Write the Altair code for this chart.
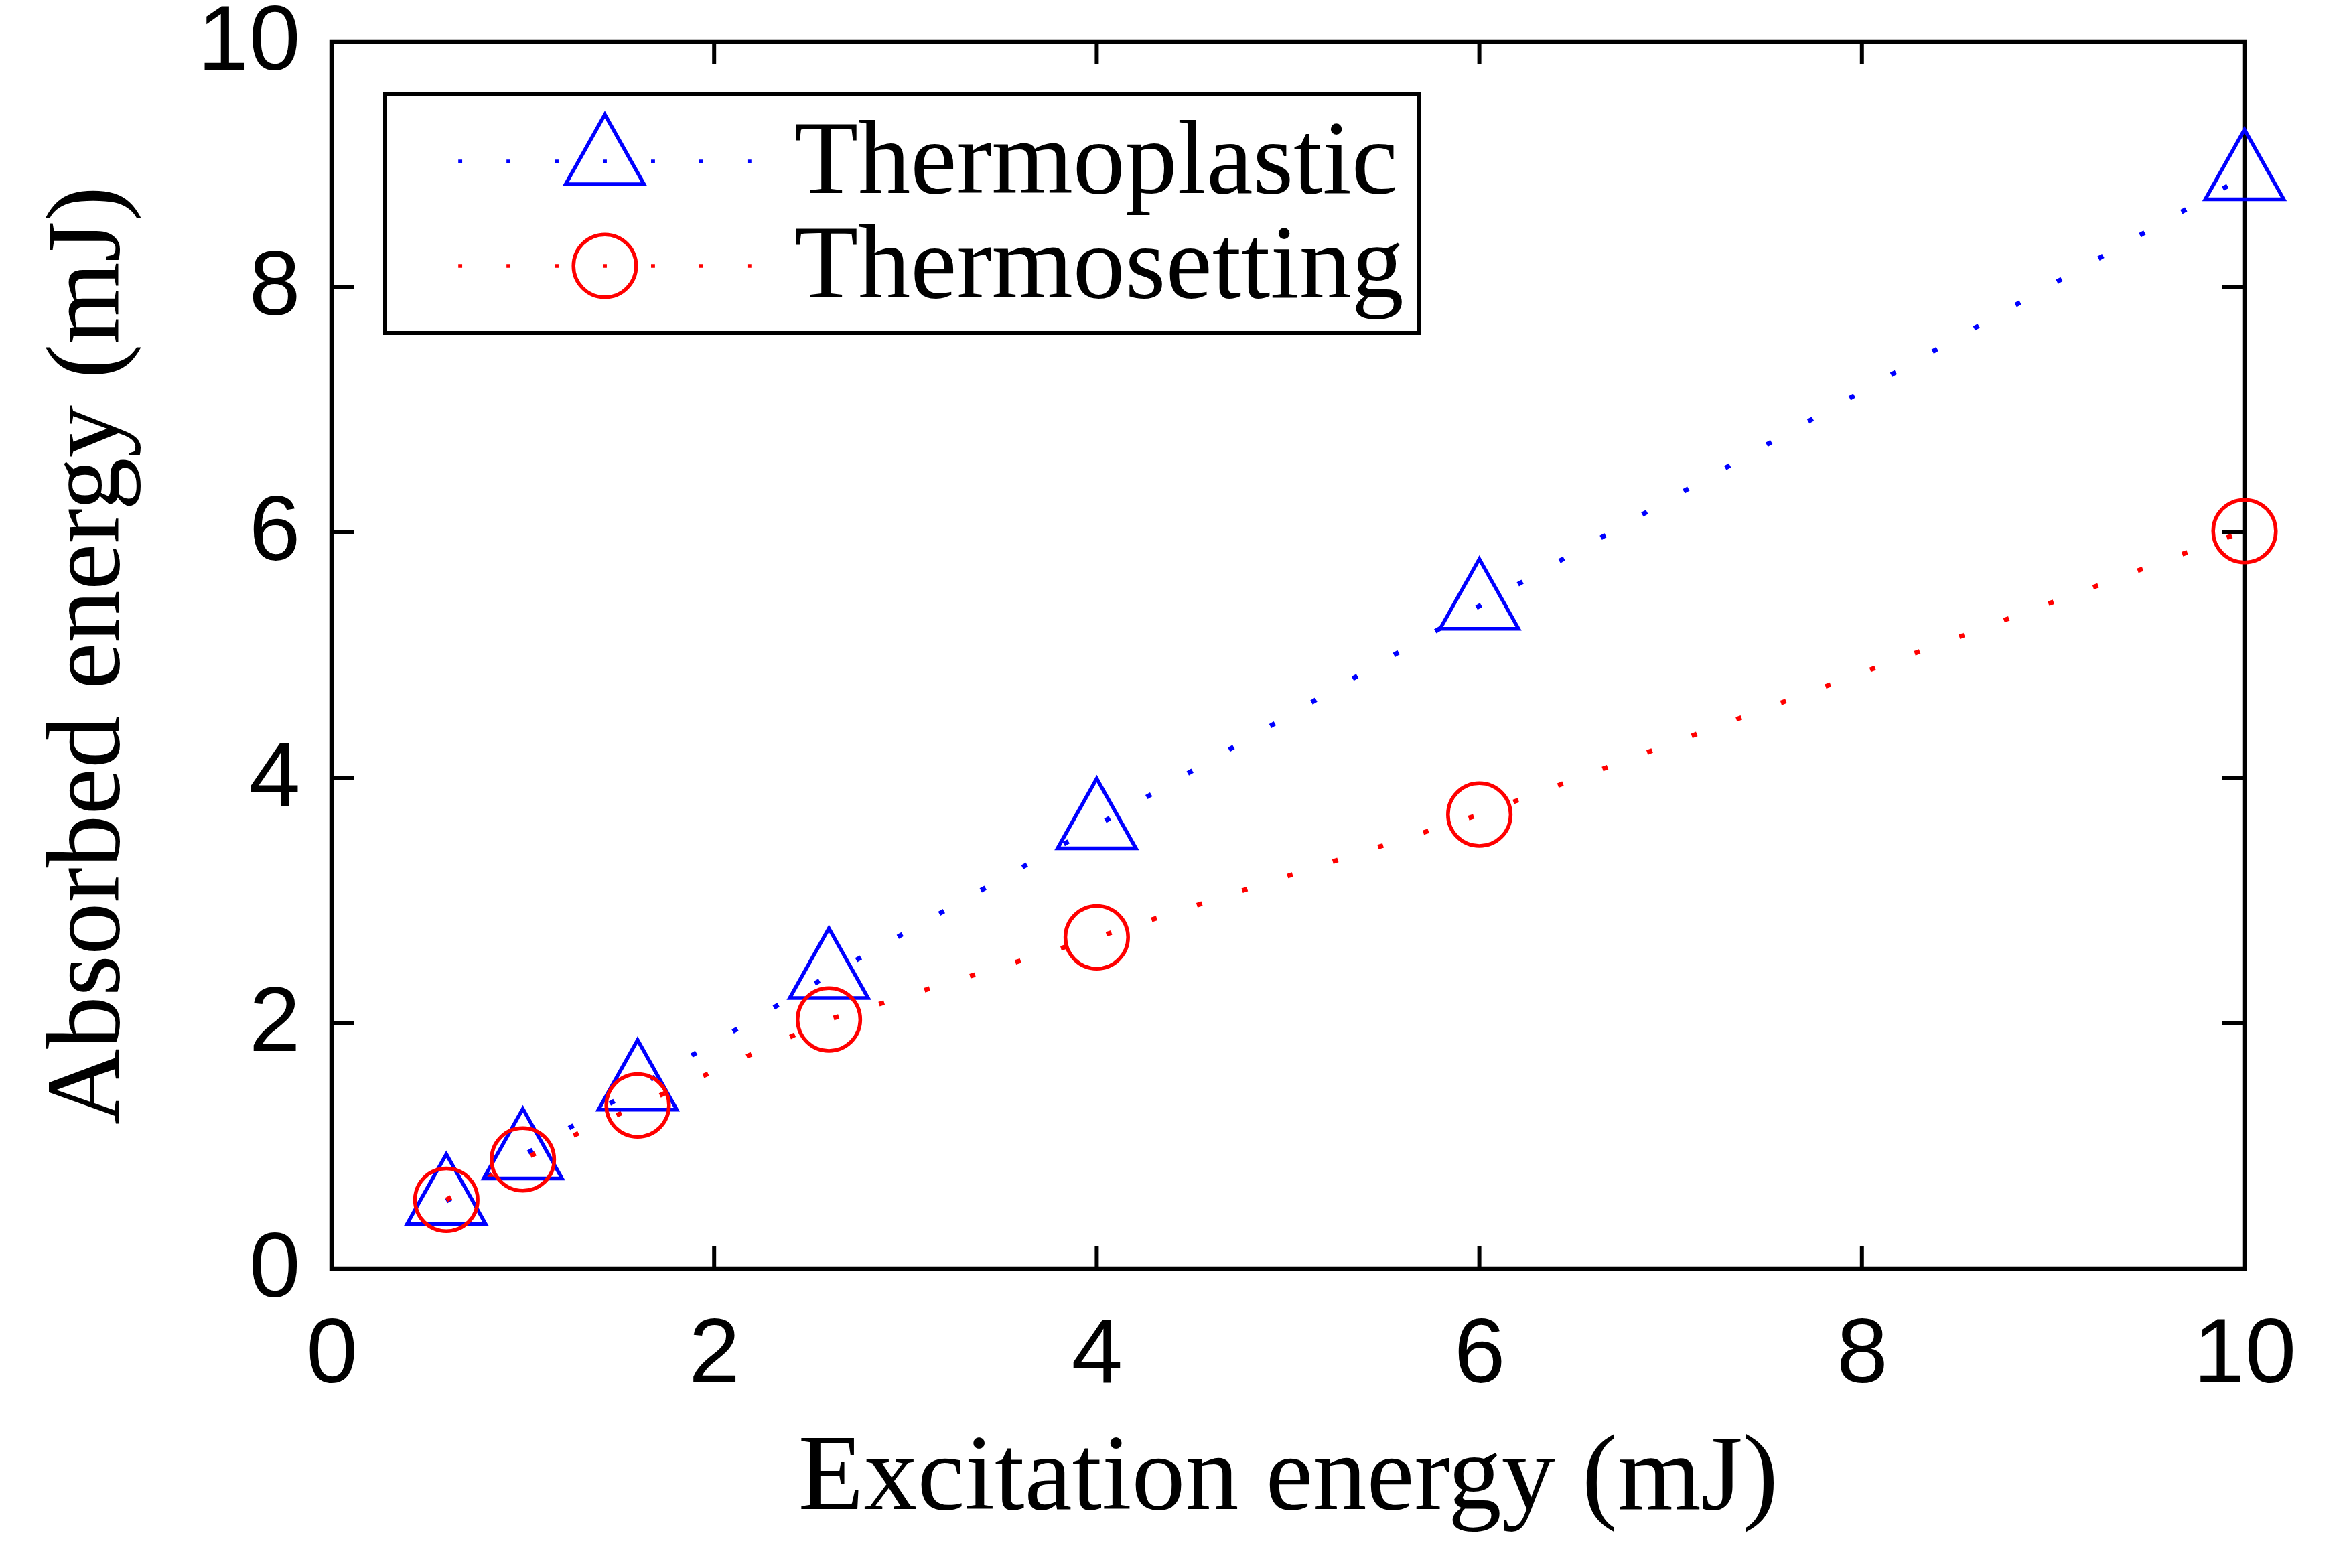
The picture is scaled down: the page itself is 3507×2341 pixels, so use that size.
import altair as alt
import pandas as pd

# ---- data ----
series_names = ["Thermoplastic", "Thermosetting"]
excitation = [0.6, 1.0, 1.6, 2.6, 4.0, 6.0, 10.0]
thermoplastic = [0.55, 0.92, 1.48, 2.39, 3.61, 5.40, 8.90]
thermosetting = [0.56, 0.89, 1.33, 2.03, 2.70, 3.70, 6.01]
tick_values = [0, 2, 4, 6, 8, 10]
series_colors = ["#0000ff", "#ff0000"]

rows = []
for name, vals in zip(series_names, [thermoplastic, thermosetting]):
    for xv, yv in zip(excitation, vals):
        rows.append({"x": xv, "y": yv, "series": name})
df = pd.DataFrame(rows)
ticks_x = pd.DataFrame({"x": tick_values})
ticks_y = pd.DataFrame({"y": tick_values})

W, H = 2856, 1832
TICK = 33

# marker shapes (unit = half of sqrt(size))
tri = "M0,-1.2L-1,0.58L1,0.58Z"
circ = "M-0.8,0A0.8,0.8 0 1,0 0.8,0A0.8,0.8 0 1,0 -0.8,0Z"
dots = "".join(
    f"M{c-0.05:.2f},0H{c+0.05:.2f}" for c in [-3.69, -2.46, -1.23, 0.0, 1.23, 2.46, 3.69]
)
tri_leg = dots + tri
circ_leg = dots + circ
MSIZE = 117 * 117

X = alt.X(
    "x:Q",
    scale=alt.Scale(domain=[0, 10], nice=False, zero=False),
    axis=alt.Axis(
        values=tick_values, ticks=False, tickSize=0, domain=False, grid=False,
        labelFont="Liberation Sans", labelFontSize=138, labelColor="black",
        labelPadding=60, labelFlush=False,
        title="Excitation energy (mJ)", titleFont="Liberation Serif",
        titleFontSize=160, titleFontWeight="normal", titleColor="black",
        titleX=W / 2, titleY=358, titleBaseline="alphabetic", titleAlign="center",
    ),
)
Y = alt.Y(
    "y:Q",
    scale=alt.Scale(domain=[0, 10], nice=False, zero=False),
    axis=alt.Axis(
        values=tick_values, ticks=False, tickSize=0, domain=False, grid=False,
        labelFont="Liberation Sans", labelFontSize=138, labelColor="black",
        labelPadding=47, labelFlush=False,
        title="Absorbed energy (mJ)", titleFont="Liberation Serif",
        titleFontSize=157, titleFontWeight="normal", titleColor="black",
        titleX=-319, titleY=H / 2, titleAngle=270, titleBaseline="alphabetic",
        titleAlign="center",
    ),
)

color_scale = alt.Scale(domain=series_names, range=series_colors)

lines = alt.Chart(df).mark_line(
    strokeDash=[8, 63], strokeWidth=7, strokeCap="butt"
).encode(
    x=X, y=Y,
    color=alt.Color("series:N", scale=color_scale, legend=None),
)

points = alt.Chart(df).mark_point(
    filled=False, strokeWidth=5.5, size=MSIZE, opacity=1
).encode(
    x=X, y=Y,
    color=alt.Color("series:N", scale=color_scale, legend=None),
    shape=alt.Shape("series:N", scale=alt.Scale(domain=series_names, range=[tri, circ]), legend=None),
)

leg = alt.Legend(
    title=None, orient="none", legendX=80, legendY=79, padding=22,
    strokeColor="black", fillColor="white",
    labelFont="Liberation Serif", labelFontSize=156, labelColor="black",
    labelLimit=3000, labelOffset=205, rowPadding=0,
    labelExpr="datum.label + '\u2002'",
    symbolSize=MSIZE, symbolStrokeWidth=5.5, symbolOpacity=1, symbolOffset=228,
)
legend_layer = alt.Chart(df).transform_calculate(
    legend_series="datum.series"
).mark_point(filled=False, opacity=0, size=MSIZE).encode(
    x=X, y=Y,
    color=alt.Color("legend_series:N", scale=color_scale, legend=leg),
    shape=alt.Shape("legend_series:N", scale=alt.Scale(domain=series_names, range=[tri_leg, circ_leg]), legend=leg),
)

rule_kw = dict(color="black", strokeWidth=6)
tick_bottom = alt.Chart(ticks_x).mark_rule(**rule_kw).encode(x=X, y=alt.value(H), y2=alt.value(H - TICK))
tick_top = alt.Chart(ticks_x).mark_rule(**rule_kw).encode(x=X, y=alt.value(0), y2=alt.value(TICK))
tick_left = alt.Chart(ticks_y).mark_rule(**rule_kw).encode(y=Y, x=alt.value(0), x2=alt.value(TICK))
tick_right = alt.Chart(ticks_y).mark_rule(**rule_kw).encode(y=Y, x=alt.value(W), x2=alt.value(W - TICK))

chart = alt.layer(
    tick_bottom, tick_top, tick_left, tick_right, lines, points, legend_layer
).resolve_scale(
    color="independent", shape="independent"
).properties(
    width=W, height=H,
    autosize=alt.AutoSizeParams(type="none"),
    padding={"left": 487, "top": 54, "right": 140, "bottom": 420},
    background="white",
).configure_view(
    stroke="black", strokeWidth=6.5
).configure_legend(
    strokeWidth=6
)

chart.save("out.html", embed_options={"renderer": "svg", "actions": False})
